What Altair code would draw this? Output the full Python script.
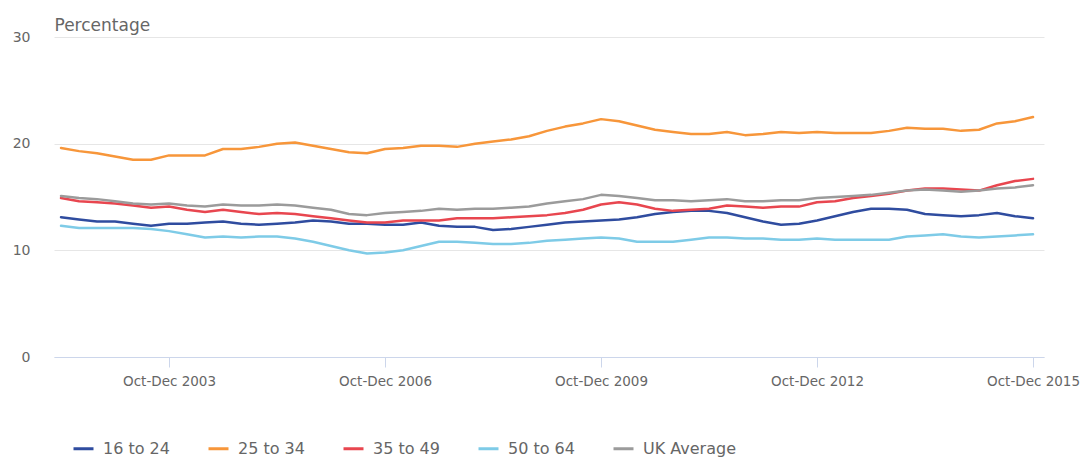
import altair as alt
import pandas as pd

# Quarters: Apr-Jun 2002 .. Oct-Dec 2015
months = ["Jan-Mar", "Apr-Jun", "Jul-Sep", "Oct-Dec"]
quarters = [f"{m} {y}" for y in range(2002, 2016) for m in months][1:]

tick_labels = ["Oct-Dec 2003", "Oct-Dec 2006", "Oct-Dec 2009", "Oct-Dec 2012", "Oct-Dec 2015"]

age_16_24 = [13.1, 12.9, 12.7, 12.7, 12.5, 12.3, 12.5, 12.5, 12.6, 12.7, 12.5, 12.4, 12.5, 12.6,
             12.8, 12.7, 12.5, 12.5, 12.4, 12.4, 12.6, 12.3, 12.2, 12.2, 11.9, 12.0, 12.2, 12.4,
             12.6, 12.7, 12.8, 12.9, 13.1, 13.4, 13.6, 13.7, 13.7, 13.5, 13.1, 12.7, 12.4, 12.5,
             12.8, 13.2, 13.6, 13.9, 13.9, 13.8, 13.4, 13.3, 13.2, 13.3, 13.5, 13.2, 13.0]
age_25_34 = [19.6, 19.3, 19.1, 18.8, 18.5, 18.5, 18.9, 18.9, 18.9, 19.5, 19.5, 19.7, 20.0, 20.1,
             19.8, 19.5, 19.2, 19.1, 19.5, 19.6, 19.8, 19.8, 19.7, 20.0, 20.2, 20.4, 20.7, 21.2,
             21.6, 21.9, 22.3, 22.1, 21.7, 21.3, 21.1, 20.9, 20.9, 21.1, 20.8, 20.9, 21.1, 21.0,
             21.1, 21.0, 21.0, 21.0, 21.2, 21.5, 21.4, 21.4, 21.2, 21.3, 21.9, 22.1, 22.5]
age_35_49 = [14.9, 14.6, 14.5, 14.4, 14.2, 14.0, 14.1, 13.8, 13.6, 13.8, 13.6, 13.4, 13.5, 13.4,
             13.2, 13.0, 12.8, 12.6, 12.6, 12.8, 12.8, 12.8, 13.0, 13.0, 13.0, 13.1, 13.2, 13.3,
             13.5, 13.8, 14.3, 14.5, 14.3, 13.9, 13.7, 13.8, 13.9, 14.2, 14.1, 14.0, 14.1, 14.1,
             14.5, 14.6, 14.9, 15.1, 15.3, 15.6, 15.8, 15.8, 15.7, 15.6, 16.1, 16.5, 16.7]
age_50_64 = [12.3, 12.1, 12.1, 12.1, 12.1, 12.0, 11.8, 11.5, 11.2, 11.3, 11.2, 11.3, 11.3, 11.1,
             10.8, 10.4, 10.0, 9.7, 9.8, 10.0, 10.4, 10.8, 10.8, 10.7, 10.6, 10.6, 10.7, 10.9,
             11.0, 11.1, 11.2, 11.1, 10.8, 10.8, 10.8, 11.0, 11.2, 11.2, 11.1, 11.1, 11.0, 11.0,
             11.1, 11.0, 11.0, 11.0, 11.0, 11.3, 11.4, 11.5, 11.3, 11.2, 11.3, 11.4, 11.5]
uk_average = [15.1, 14.9, 14.8, 14.6, 14.4, 14.3, 14.4, 14.2, 14.1, 14.3, 14.2, 14.2, 14.3, 14.2,
              14.0, 13.8, 13.4, 13.3, 13.5, 13.6, 13.7, 13.9, 13.8, 13.9, 13.9, 14.0, 14.1, 14.4,
              14.6, 14.8, 15.2, 15.1, 14.9, 14.7, 14.7, 14.6, 14.7, 14.8, 14.6, 14.6, 14.7, 14.7,
              14.9, 15.0, 15.1, 15.2, 15.4, 15.6, 15.7, 15.6, 15.5, 15.6, 15.8, 15.9, 16.1]

series_names = ["16 to 24", "25 to 34", "35 to 49", "50 to 64", "UK Average"]
series_values = [age_16_24, age_25_34, age_35_49, age_50_64, uk_average]
colors = ["#2f4c9f", "#f7963a", "#e8464f", "#7ecbe7", "#9b9b9b"]

rows = []
for name, vals in zip(series_names, series_values):
    for i, (q, v) in enumerate(zip(quarters, vals)):
        rows.append({"series": name, "quarter": q, "idx": i, "value": v})
df = pd.DataFrame(rows)

tick_idx = [quarters.index(t) for t in tick_labels]
label_expr = " : ".join(f"datum.value == {i} ? '{t}'" for i, t in zip(tick_idx, tick_labels)) + " : ''"

FONT = "DejaVu Sans"

chart = alt.Chart(df).mark_line(strokeWidth=2.5, strokeJoin="round", strokeCap="round").encode(
    x=alt.X("idx:Q",
            scale=alt.Scale(domain=[-0.39, 54.61], nice=False, zero=False),
            axis=alt.Axis(values=tick_idx, labelExpr=label_expr, title=None, grid=False,
                          domain=True, domainColor="#ccd6eb", domainWidth=1,
                          ticks=True, tickColor="#ccd6eb", tickSize=10,
                          labelColor="#666666", labelFontSize=13.5, labelFont=FONT,
                          labelPadding=7, labelFlush=False, labelOverlap=False)),
    y=alt.Y("value:Q",
            scale=alt.Scale(domain=[0, 30], nice=False),
            axis=alt.Axis(values=[0, 10, 20, 30], title="Percentage", grid=True,
                          gridColor="#e6e6e6", gridWidth=1, domain=False, ticks=False,
                          labelColor="#666666", labelFontSize=14, labelFont=FONT,
                          labelPadding=24,
                          titleAngle=0, titleAlign="left", titleBaseline="alphabetic",
                          titleX=0, titleY=-7, titleColor="#666666", titleFontSize=17,
                          titleFont=FONT, titleFontWeight="normal")),
    color=alt.Color("series:N",
                    scale=alt.Scale(domain=series_names, range=colors),
                    legend=alt.Legend(title=None, orient="none", direction="horizontal",
                                      legendX=18, legendY=400,
                                      symbolType="stroke", symbolSize=400, symbolStrokeWidth=3,
                                      labelFontSize=16, labelFont=FONT, labelColor="#666666",
                                      labelOffset=8, columnPadding=32)),
    detail="series:N",
).properties(
    width=990,
    height=320,
    autosize=alt.AutoSizeParams(type="none"),
    padding={"left": 46, "top": 29, "right": 37, "bottom": 103},
).configure_view(stroke=None)

chart.save("out.html", embed_options={"renderer": "svg", "actions": False})
